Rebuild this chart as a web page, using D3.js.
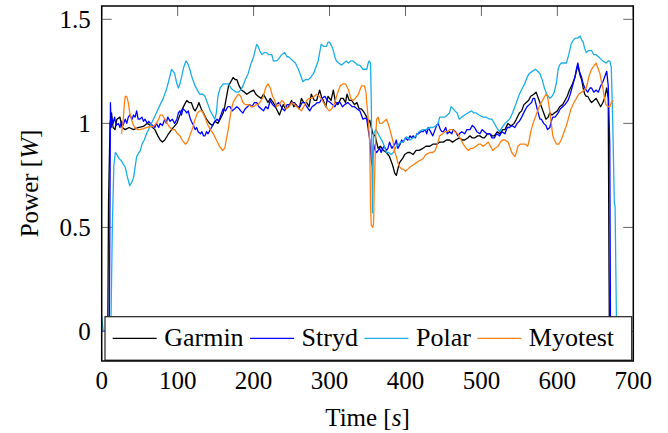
<!DOCTYPE html>
<html>
<head>
<meta charset="utf-8">
<script src="https://cdn.jsdelivr.net/npm/d3@7"></script>
<style>
  body { margin: 0; background: #fff; }
  svg text { font-family: "Liberation Serif", "Times New Roman", serif; fill: #000; }
</style>
</head>
<body>
<div id="chart"></div>
<script>
// power traces, [time s, power W]
var garmin = [[0,0],[8,0],[9,0.62],[11,1.0],[13,1.05],[15,0.98],[17.5,0.97],[20,1.02],[24,1.03],[27,0.98],[31,0.97],[36,0.98],[42,0.97],[48,0.98],[55,0.985],[60,1.0],[64,0.99],[70,0.97],[74,0.94],[77,0.92],[80,0.91],[83,0.92],[88,0.95],[92,0.97],[99,1.0],[105,1.06],[109,1.09],[112,1.11],[115,1.1],[118,1.1],[121,1.07],[123,1.06],[126,1.08],[128,1.1],[131,1.07],[134,1.05],[138,1.02],[142,1.0],[146,0.99],[149,1.01],[153,1.0],[156,1.02],[160,1.05],[162,1.08],[165,1.14],[167,1.18],[170,1.2],[173,1.22],[176,1.21],[178,1.21],[181,1.18],[184,1.16],[188,1.15],[191,1.14],[195,1.15],[200,1.16],[203,1.14],[206,1.13],[210,1.12],[213,1.14],[216,1.12],[219,1.1],[222,1.12],[226,1.1],[230,1.07],[234,1.04],[236,1.06],[239,1.09],[242,1.07],[246,1.08],[250,1.11],[253,1.08],[256,1.09],[260,1.07],[263,1.12],[266,1.1],[270,1.1],[273,1.08],[276,1.14],[280,1.11],[283,1.11],[287,1.16],[290,1.12],[292,1.11],[295,1.08],[298,1.13],[302,1.11],[305,1.16],[308,1.1],[311,1.09],[315,1.12],[318,1.12],[321,1.1],[323,1.14],[326,1.11],[329,1.11],[333,1.09],[336,1.1],[339,1.07],[342,1.07],[346,1.05],[349,1.03],[351,1.0],[353,1.015],[355,0.98],[357,0.95],[360,0.94],[364,0.88],[367,0.89],[371,0.87],[375,0.86],[379,0.84],[383,0.8],[386,0.76],[388,0.75],[390,0.78],[392,0.81],[396,0.83],[399,0.85],[403,0.86],[406,0.86],[410,0.85],[414,0.87],[418,0.87],[423,0.88],[427,0.89],[432,0.89],[436,0.9],[441,0.9],[445,0.91],[450,0.91],[454,0.92],[458,0.92],[462,0.91],[466,0.92],[471,0.93],[475,0.92],[478,0.92],[482,0.93],[485,0.94],[488,0.93],[491,0.93],[495,0.94],[498,0.94],[502,0.93],[504,0.93],[508,0.95],[511,0.95],[514,0.94],[517,0.94],[521,0.96],[524,0.95],[528,0.97],[531,0.97],[535,1.0],[538,0.99],[540,0.99],[543,1.0],[546,1.02],[550,1.05],[553,1.06],[556,1.09],[559,1.1],[562,1.11],[565,1.13],[569,1.14],[572,1.15],[575,1.12],[577,1.1],[579,1.08],[581,1.06],[583,1.04],[585,1.02],[588,1.03],[590,1.05],[593,1.04],[596,1.05],[600,1.06],[603,1.08],[607,1.09],[610,1.11],[613,1.13],[616,1.16],[620,1.19],[623,1.22],[625,1.25],[627,1.28],[630,1.23],[632,1.21],[634,1.17],[636,1.14],[638,1.13],[640,1.13],[643,1.11],[645,1.1],[648,1.11],[651,1.12],[654,1.1],[657,1.08],[660,1.1],[662,1.12],[665,1.17],[667,1.12],[668,0.3],[668.5,0],[690,0]];

var stryd = [[0,0],[10,0],[11.5,1.1],[12.5,0.98],[14,1.02],[15,1.0],[17,1.03],[19,0.99],[22,1.0],[24,0.98],[26,1.01],[28,0.99],[31,1.02],[33,1.0],[35,1.03],[37,1.04],[40,1.02],[42,1.04],[44,1.03],[46,1.06],[48,1.02],[50,1.02],[53,1.03],[55,1.01],[57,1.02],[60,1.0],[62,1.01],[64,1.0],[67,0.99],[70,0.98],[72,1.0],[75,0.98],[77,1.0],[80,0.99],[83,1.02],[85,1.0],[87,1.03],[90,1.01],[93,1.02],[96,1.0],[99,1.02],[101,1.05],[103,1.06],[105,1.04],[107,1.07],[110,1.06],[112,1.05],[114,1.06],[116,1.03],[118,1.01],[121,0.99],[123,0.97],[125,0.98],[127,0.96],[130,0.95],[132,0.96],[134,0.94],[136,0.94],[138,0.96],[140,0.95],[143,0.97],[146,0.99],[149,1.01],[152,1.02],[154,1.01],[156,1.03],[158,1.05],[160,1.07],[163,1.06],[166,1.08],[169,1.08],[172,1.06],[175,1.07],[178,1.08],[181,1.07],[183,1.06],[186,1.05],[189,1.07],[192,1.08],[195,1.09],[198,1.08],[201,1.1],[204,1.1],[207,1.08],[210,1.07],[213,1.06],[216,1.08],[219,1.07],[222,1.11],[225,1.09],[228,1.08],[230,1.09],[233,1.1],[235,1.09],[238,1.07],[241,1.06],[244,1.09],[248,1.09],[251,1.1],[254,1.1],[257,1.08],[261,1.08],[264,1.1],[267,1.1],[270,1.08],[274,1.06],[277,1.08],[281,1.09],[284,1.1],[287,1.1],[290,1.12],[294,1.13],[297,1.11],[301,1.1],[304,1.09],[307,1.08],[310,1.1],[314,1.1],[317,1.08],[320,1.09],[324,1.1],[327,1.09],[330,1.08],[333,1.08],[336,1.07],[340,1.06],[342,1.04],[344,1.02],[347,1.025],[349,1.02],[351,0.97],[353,0.92],[355,0.82],[356,0.8],[358,0.9],[360,0.87],[362,0.86],[364,0.87],[366,0.88],[368,0.86],[370,0.88],[372,0.89],[375,0.87],[377,0.88],[379,0.91],[382,0.88],[384,0.89],[386,0.9],[388,0.92],[390,0.88],[393,0.9],[395,0.92],[397,0.91],[400,0.93],[403,0.92],[406,0.94],[408,0.93],[410,0.94],[413,0.93],[415,0.95],[417,0.95],[420,0.96],[423,0.96],[426,0.97],[428,0.95],[430,0.98],[433,0.96],[436,0.94],[439,0.97],[441,0.99],[443,1.0],[446,0.97],[448,0.96],[450,0.96],[453,0.98],[455,0.95],[458,0.96],[461,0.95],[463,0.97],[466,0.96],[469,0.94],[471,0.95],[474,0.96],[478,0.95],[481,0.97],[485,0.97],[488,0.99],[491,0.98],[494,0.96],[498,0.95],[501,0.97],[504,0.96],[507,0.95],[511,0.95],[514,0.93],[517,0.93],[520,0.95],[524,0.94],[527,0.96],[531,0.95],[534,0.98],[537,0.98],[540,0.99],[544,0.98],[547,1.0],[550,1.01],[553,1.03],[557,1.06],[560,1.08],[563,1.09],[566,1.1],[568,1.12],[570,1.12],[572,1.09],[574,1.06],[577,1.02],[579,1.02],[582,1.0],[585,0.99],[587,0.97],[590,0.98],[592,1.01],[594,1.03],[597,1.03],[601,1.05],[604,1.07],[607,1.08],[610,1.09],[614,1.11],[617,1.14],[620,1.18],[623,1.22],[625,1.26],[627,1.29],[629,1.25],[632,1.22],[634,1.19],[636,1.17],[638,1.16],[640,1.15],[643,1.17],[645,1.17],[648,1.15],[651,1.16],[654,1.15],[657,1.18],[660,1.2],[662,1.22],[665,1.25],[667,1.18],[669,0.9],[670,0],[690,0]];

var polar = [[0,0.07],[2,0],[12,0],[14,0.5],[16,0.8],[18,0.86],[20,0.85],[23,0.83],[26,0.82],[29,0.8],[31,0.79],[34,0.74],[37,0.7],[40,0.72],[42,0.74],[44,0.79],[46,0.84],[49,0.86],[51,0.87],[53,0.9],[56,0.92],[59,0.95],[63,0.98],[68,1.02],[72,1.05],[77,1.09],[81,1.12],[85,1.16],[88,1.2],[90,1.23],[92,1.26],[94,1.25],[96,1.24],[99,1.19],[101,1.17],[103,1.19],[105,1.22],[108,1.27],[111,1.3],[113,1.29],[116,1.26],[119,1.22],[123,1.18],[126,1.16],[129,1.14],[133,1.14],[136,1.13],[140,1.09],[143,1.06],[146,1.04],[149,1.02],[151,1.05],[153,1.13],[156,1.17],[158,1.18],[160,1.19],[164,1.19],[167,1.19],[170,1.17],[173,1.16],[177,1.15],[180,1.15],[183,1.16],[186,1.18],[189,1.21],[193,1.24],[196,1.28],[200,1.32],[202,1.35],[204,1.38],[206,1.37],[208,1.35],[211,1.33],[214,1.34],[217,1.34],[220,1.33],[224,1.33],[226,1.3],[230,1.3],[233,1.31],[237,1.33],[241,1.34],[244,1.32],[246,1.32],[249,1.31],[252,1.3],[255,1.29],[259,1.26],[262,1.23],[265,1.2],[268,1.21],[272,1.21],[275,1.22],[279,1.24],[282,1.27],[285,1.3],[287,1.34],[289,1.38],[292,1.37],[296,1.37],[298,1.39],[300,1.39],[303,1.37],[305,1.35],[307,1.32],[309,1.3],[312,1.29],[316,1.28],[319,1.29],[322,1.3],[325,1.29],[328,1.3],[331,1.3],[334,1.29],[337,1.28],[340,1.28],[344,1.26],[347,1.26],[349,1.26],[351,1.29],[352,1.3],[354,1.29],[355,1.1],[356.5,0.57],[358,0.95],[361,0.97],[364,0.95],[367,0.93],[370,0.91],[373,0.88],[375,0.86],[378,0.86],[381,0.85],[384,0.86],[388,0.89],[391,0.9],[394,0.91],[397,0.91],[401,0.935],[404,0.93],[406,0.92],[410,0.93],[414,0.94],[418,0.96],[423,0.97],[427,0.97],[432,0.98],[436,0.98],[441,0.99],[443,1.0],[445,1.03],[449,1.03],[452,1.03],[455,1.04],[458,1.05],[460,1.08],[463,1.07],[465,1.06],[468,1.05],[471,1.02],[474,1.03],[478,1.04],[482,1.05],[487,1.06],[490,1.05],[493,1.05],[497,1.04],[502,1.03],[506,1.03],[511,1.02],[514,1.02],[517,1.0],[520,0.98],[524,0.96],[527,0.98],[531,1.0],[534,1.01],[537,1.02],[541,1.05],[544,1.08],[547,1.11],[550,1.14],[554,1.17],[557,1.19],[560,1.22],[563,1.24],[567,1.25],[571,1.26],[574,1.25],[577,1.24],[580,1.21],[583,1.17],[586,1.14],[590,1.12],[593,1.13],[596,1.15],[599,1.2],[601,1.26],[603,1.28],[605,1.29],[608,1.29],[612,1.29],[615,1.33],[618,1.38],[621,1.4],[624,1.41],[627,1.41],[630,1.42],[632,1.4],[634,1.39],[636,1.36],[638,1.34],[641,1.35],[645,1.35],[648,1.33],[651,1.33],[654,1.32],[657,1.31],[660,1.3],[664,1.29],[667,1.3],[669,1.3],[671,1.27],[673,1.0],[675,0.62],[676,0.6],[677,0.3],[678,0],[695,0]];

var myotest = [[26,0.95],[28,1.0],[30,1.1],[31,1.13],[33,1.13],[35,1.1],[37,1.05],[39,1.02],[42,0.99],[44,0.98],[47,0.97],[50,0.97],[55,0.975],[59,0.98],[64,0.985],[68,0.985],[72,1.0],[75,1.02],[77,1.04],[80,1.04],[83,1.02],[86,1.0],[90,0.98],[93,0.97],[96,0.97],[100,0.95],[103,0.94],[106,0.92],[110,0.9],[113,0.91],[116,0.94],[120,0.98],[123,1.02],[126,1.05],[129,1.06],[132,1.06],[136,1.03],[140,0.99],[143,0.97],[147,0.95],[151,0.92],[155,0.89],[159,0.87],[162,0.88],[164,0.92],[167,0.98],[169,1.03],[171,1.07],[173,1.1],[176,1.12],[180,1.14],[183,1.13],[186,1.1],[189,1.09],[193,1.09],[197,1.08],[200,1.08],[203,1.09],[206,1.09],[210,1.11],[213,1.13],[215,1.16],[217,1.18],[219,1.19],[222,1.17],[225,1.13],[228,1.11],[230,1.08],[234,1.09],[237,1.11],[240,1.1],[243,1.07],[247,1.08],[250,1.1],[254,1.09],[257,1.08],[260,1.07],[263,1.06],[266,1.08],[270,1.11],[273,1.12],[276,1.12],[280,1.13],[283,1.14],[286,1.13],[289,1.12],[292,1.1],[294,1.09],[297,1.07],[300,1.06],[303,1.07],[307,1.1],[310,1.14],[314,1.18],[318,1.19],[321,1.19],[325,1.16],[328,1.12],[331,1.11],[334,1.12],[338,1.14],[342,1.18],[346,1.18],[348,1.15],[349,1.1],[351,1.02],[353,0.9],[354,0.6],[355,0.51],[357,0.5],[358,0.52],[359,0.7],[361,0.95],[362,1.02],[364,1.03],[366,1.0],[369,1.0],[372,1.01],[375,1.02],[378,0.99],[381,0.95],[384,0.905],[386,0.86],[388,0.84],[390,0.81],[392.5,0.79],[395,0.78],[397,0.78],[400,0.77],[403,0.78],[406,0.79],[410,0.8],[414,0.81],[418,0.82],[423,0.83],[427,0.85],[432,0.86],[436,0.86],[439,0.87],[442,0.9],[445,0.94],[449,0.95],[452,0.96],[455,0.96],[458,0.97],[462,0.97],[465,0.96],[469,0.95],[472,0.93],[476,0.9],[480,0.88],[483,0.87],[486,0.88],[489,0.88],[493,0.89],[496,0.9],[499,0.9],[502,0.89],[506,0.9],[509,0.91],[512,0.89],[515,0.87],[518,0.88],[522,0.89],[525,0.91],[528,0.92],[531,0.92],[535,0.91],[538,0.88],[540,0.86],[542,0.85],[544,0.84],[546,0.86],[548,0.89],[551,0.9],[555,0.9],[558,0.9],[561,0.89],[563,0.92],[565,0.96],[568,1.0],[572,1.04],[576,1.08],[579,1.1],[582,1.12],[585,1.14],[587,1.13],[590,1.06],[592,1.0],[594,0.94],[596,0.92],[599,0.9],[602,0.9],[605,0.92],[608,0.95],[612,0.99],[615,1.03],[618,1.07],[622,1.1],[625,1.12],[628,1.14],[632,1.15],[635,1.16],[638,1.17],[640,1.2],[642,1.23],[645,1.26],[647,1.27],[649,1.28],[651,1.29],[653,1.27],[656,1.24],[658,1.2],[660,1.17],[662,1.12],[664,1.09],[667,1.08],[669,1.08],[671,1.1],[674,1.11]];

var seriesNames = ["Garmin", "Stryd", "Polar", "Myotest"];
var seriesColors = ["#000000", "#0000ff", "#1aaee8", "#ff8010"];
var seriesData = [garmin, stryd, polar, myotest];

var xTicks = [0, 100, 200, 300, 400, 500, 600, 700];
var yTicks = [0, 0.5, 1, 1.5];

var width = 668, height = 433;
var plotLeft = 101.7, plotRight = 633.3, plotTop = 6, plotBottom = 361;

var svg = d3.select("#chart").append("svg")
    .attr("width", width)
    .attr("height", height);

var x = d3.scaleLinear().domain([0, 700]).range([plotLeft, plotRight]);
var y = d3.scaleLinear().domain([-0.142, 1.564]).range([plotBottom, plotTop]);

svg.append("clipPath").attr("id", "plotclip")
  .append("rect")
    .attr("x", plotLeft).attr("y", plotTop)
    .attr("width", plotRight - plotLeft).attr("height", plotBottom - plotTop);

// inward ticks on all four sides
var tickLen = 10;
var ticks = svg.append("g").attr("stroke", "#666").attr("stroke-width", 1);
xTicks.forEach(function (t) {
    ticks.append("line").attr("x1", x(t)).attr("x2", x(t)).attr("y1", plotBottom).attr("y2", plotBottom - tickLen);
    ticks.append("line").attr("x1", x(t)).attr("x2", x(t)).attr("y1", plotTop).attr("y2", plotTop + tickLen);
});
yTicks.forEach(function (t) {
    ticks.append("line").attr("x1", plotLeft).attr("x2", plotLeft + tickLen).attr("y1", y(t)).attr("y2", y(t));
    ticks.append("line").attr("x1", plotRight).attr("x2", plotRight - tickLen).attr("y1", y(t)).attr("y2", y(t));
});

var line = d3.line()
    .x(function (d) { return x(d[0]); })
    .y(function (d) { return y(d[1]); });

var plot = svg.append("g").attr("clip-path", "url(#plotclip)");
seriesData.forEach(function (data, i) {
    plot.append("path")
        .datum(data)
        .attr("d", line)
        .attr("fill", "none")
        .attr("stroke", seriesColors[i])
        .attr("stroke-width", 1.3)
        .attr("stroke-linejoin", "round");
});

// legend box across the bottom of the plot
var legend = svg.append("g");
legend.append("rect")
    .attr("x", 105).attr("y", 316.7)
    .attr("width", 526.7).attr("height", 43.5)
    .attr("fill", "#fff")
    .attr("stroke", "#222")
    .attr("stroke-width", 1.2);

var lx = 112.7;
seriesNames.forEach(function (name, i) {
    legend.append("line")
        .attr("x1", lx).attr("x2", lx + 44)
        .attr("y1", 338.3).attr("y2", 338.3)
        .attr("stroke", seriesColors[i])
        .attr("stroke-width", 1.3);
    var txt = legend.append("text")
        .attr("x", lx + 51.5).attr("y", 345.5)
        .attr("font-size", "26px")
        .text(name);
    lx = lx + 51.5 + txt.node().getComputedTextLength() + 6.5;
});

// frame
svg.append("rect")
    .attr("x", plotLeft).attr("y", plotTop)
    .attr("width", plotRight - plotLeft).attr("height", plotBottom - plotTop)
    .attr("fill", "none")
    .attr("stroke", "#000")
    .attr("stroke-width", 1.5);

// tick labels
svg.append("g").selectAll("text")
    .data(xTicks).enter().append("text")
    .attr("x", function (d) { return x(d); })
    .attr("y", 388.5)
    .attr("text-anchor", "middle")
    .attr("font-size", "25px")
    .text(function (d) { return d; });

svg.append("g").selectAll("text")
    .data(yTicks).enter().append("text")
    .attr("x", 90.7)
    .attr("y", function (d) { return y(d) + 8.8; })
    .attr("text-anchor", "end")
    .attr("font-size", "25px")
    .text(function (d) { return d; });

// axis titles
var xl = svg.append("text")
    .attr("x", (plotLeft + plotRight) / 2).attr("y", 426)
    .attr("text-anchor", "middle")
    .attr("font-size", "25px");
xl.append("tspan").text("Time [");
xl.append("tspan").attr("font-style", "italic").text("s");
xl.append("tspan").text("]");

var yl = svg.append("text")
    .attr("transform", "translate(38," + ((plotTop + plotBottom) / 2) + ") rotate(-90)")
    .attr("text-anchor", "middle")
    .attr("font-size", "25px");
yl.append("tspan").text("Power [");
yl.append("tspan").attr("font-style", "italic").text("W");
yl.append("tspan").text("]");
</script>
</body>
</html>
